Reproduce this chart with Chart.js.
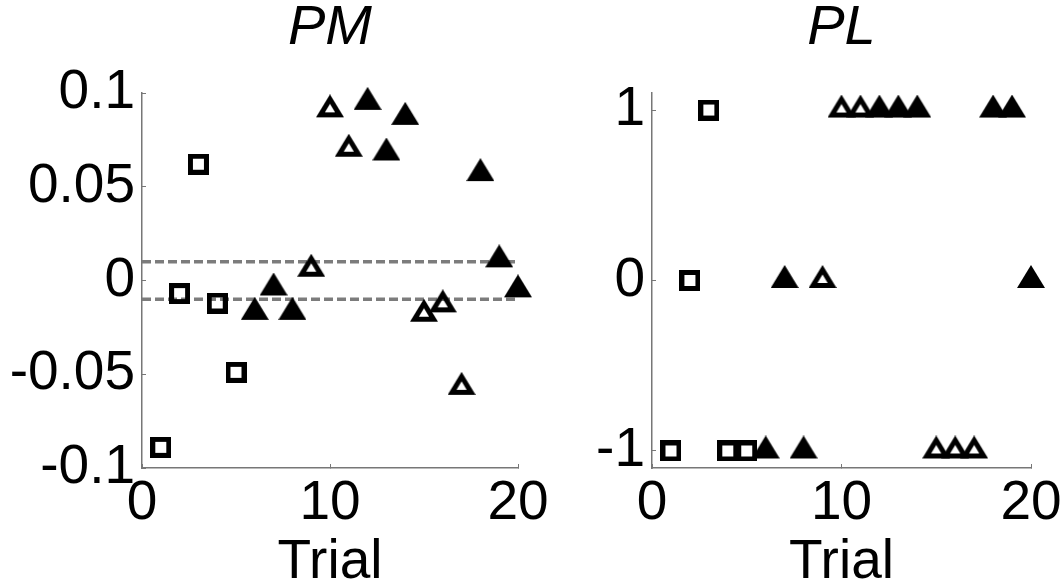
<!DOCTYPE html>
<html><head><meta charset="utf-8">
<script src="https://cdn.jsdelivr.net/npm/chart.js@4.4.1/dist/chart.umd.min.js"></script>
<style>
html,body{margin:0;padding:0;background:#fff;}
#wrap{position:relative;width:1064px;height:588px;overflow:hidden;background:#fff;}
canvas{position:absolute;top:0;}
#c1{left:0;z-index:1;} #c2{left:532px;z-index:2;}
</style></head><body>
<div id="wrap"><canvas id="c1" width="566" height="588"></canvas><canvas id="c2" width="532" height="588"></canvas></div>
<script>
// ---- data ----
const trials = [1,2,3,4,5,6,7,8,9,10,11,12,13,14,15,16,17,18,19,20];
const markerKinds = ['square','square','square','square','square',
  'filled','filled','filled','open','open','open','filled','filled','filled',
  'open','open','open','filled','filled','filled'];
const pmValues = [-0.089,-0.007,0.062,-0.012,-0.049,-0.017,-0.004,-0.017,0.006,0.091,
  0.070,0.095,0.068,0.087,-0.018,-0.013,-0.057,0.057,0.011,-0.005];
const plValues = [-1,0,1,-1,-1,-1,0,-1,0,1,1,1,1,1,-1,-1,-1,1,1,0];
const pmBandLevels = [-0.01, 0.01];
const pmBandX = [0, 20];
const xTicks = [0, 10, 20];
const xTickLabels = ['0', '10', '20'];
const pmTicks = [-0.1, -0.05, 0, 0.05, 0.1];
const pmTickLabels = ['-0.1', '-0.05', '0', '0.05', '0.1'];
const plTicks = [-1, 0, 1];
const plTickLabels = ['-1', '0', '1'];
const panelTitles = ['PM', 'PL'];
const xAxisTitle = 'Trial';

// ---- marker images ----
function squareMarker() {
  const c = document.createElement('canvas'); c.width = 21; c.height = 21;
  const g = c.getContext('2d');
  g.fillStyle = '#000'; g.fillRect(0, 0, 21, 21); g.clearRect(5, 5, 11, 11);
  return c;
}
function triangleMarker(open) {
  const W = 28, H = 23;
  const c = document.createElement('canvas'); c.width = W; c.height = Math.round(4 * H / 3);
  const g = c.getContext('2d');
  g.fillStyle = '#000';
  g.beginPath(); g.moveTo(W / 2, 0); g.lineTo(W, H); g.lineTo(0, H); g.closePath(); g.fill();
  if (open) {
    const side = Math.hypot(W / 2, H), per = W + 2 * side, r = (W * H) / per;
    const cx = W / 2, cy = H - r, k = (r - 5) / r;
    const p = (x, y) => [cx + (x - cx) * k, cy + (y - cy) * k];
    g.globalCompositeOperation = 'destination-out';
    g.beginPath();
    let q = p(W / 2, 0); g.moveTo(q[0], q[1]);
    q = p(W, H); g.lineTo(q[0], q[1]);
    q = p(0, H); g.lineTo(q[0], q[1]);
    g.closePath(); g.fill();
  }
  return c;
}
const markers = { square: squareMarker(), open: triangleMarker(true), filled: triangleMarker(false) };

const FONT = "'Liberation Sans', Arial, Helvetica, sans-serif";
Chart.defaults.font.family = FONT;

function makePanel(canvas, opts) {
  const datasets = [];
  ['square', 'open', 'filled'].forEach(kind => {
    const pts = [];
    trials.forEach((t, i) => { if (markerKinds[i] === kind) pts.push({ x: t, y: opts.values[i] }); });
    datasets.push({
      type: 'scatter', data: pts, pointStyle: markers[kind], pointRadius: 10, pointHoverRadius: 10,
      showLine: false, clip: false, order: 0
    });
  });
  (opts.bands || []).forEach(b => {
    datasets.push({
      type: 'line', data: [{ x: pmBandX[0], y: b }, { x: pmBandX[1], y: b }],
      borderColor: '#7c7c7c', borderWidth: 3.5, borderDash: [9, 4], pointRadius: 0,
      fill: false, clip: false, order: 5, tension: 0
    });
  });
  return new Chart(canvas, {
    type: 'scatter',
    data: { datasets },
    options: {
      responsive: false, animation: false, devicePixelRatio: 1, events: [],
      layout: { padding: { top: 0, left: 0, right: opts.padRight, bottom: 0 } },
      plugins: {
        legend: { display: false }, tooltip: { enabled: false },
        title: {
          display: true, text: opts.title, fullSize: false, color: '#000',
          font: { size: 56, style: 'italic', weight: 'normal', lineHeight: 1 },
          padding: { top: 0, bottom: 37 }
        }
      },
      scales: {
        x: {
          type: 'linear', min: 0, max: 20,
          afterBuildTicks: s => { s.ticks = xTicks.map(v => ({ value: v })); },
          afterFit: s => { s.height = 120; s.paddingLeft = 0; s.paddingRight = 0; },
          ticks: { callback: (v, i) => xTickLabels[i], color: '#000', font: { size: 55, lineHeight: 1 },
            padding: 12, maxRotation: 0, autoSkip: false },
          grid: { display: true, drawOnChartArea: false, drawTicks: true, tickLength: -4, color: '#777', lineWidth: 1 },
          border: { display: true, color: '#777', width: 1.5 },
          title: { display: true, text: xAxisTitle, color: '#000', font: { size: 55, lineHeight: 0.92 },
            padding: { top: 0, bottom: 0 } }
        },
        y: {
          type: 'linear', min: opts.yMin, max: opts.yMax,
          afterBuildTicks: s => { s.ticks = opts.yTicks.map(v => ({ value: v })); },
          afterFit: s => { s.width = opts.yWidth; s.paddingTop = 0; s.paddingBottom = 0; },
          ticks: { callback: (v, i) => opts.yLabels[i], color: '#000', font: { size: 55, lineHeight: 1 },
            padding: 11, autoSkip: false },
          grid: { display: true, drawOnChartArea: false, drawTicks: true, tickLength: -4, color: '#777', lineWidth: 1 },
          border: { display: true, color: '#777', width: 1.5 }
        }
      }
    }
  });
}

makePanel(document.getElementById('c1'), {
  title: panelTitles[0], values: pmValues, yMin: -0.1, yMax: 0.1,
  yTicks: pmTicks, yLabels: pmTickLabels, yWidth: 142, padRight: 48, bands: pmBandLevels
});
makePanel(document.getElementById('c2'), {
  title: panelTitles[1], values: plValues, yMin: -1.1, yMax: 1.1,
  yTicks: plTicks, yLabels: plTickLabels, yWidth: 120, padRight: 33, bands: []
});
</script>
</body></html>
